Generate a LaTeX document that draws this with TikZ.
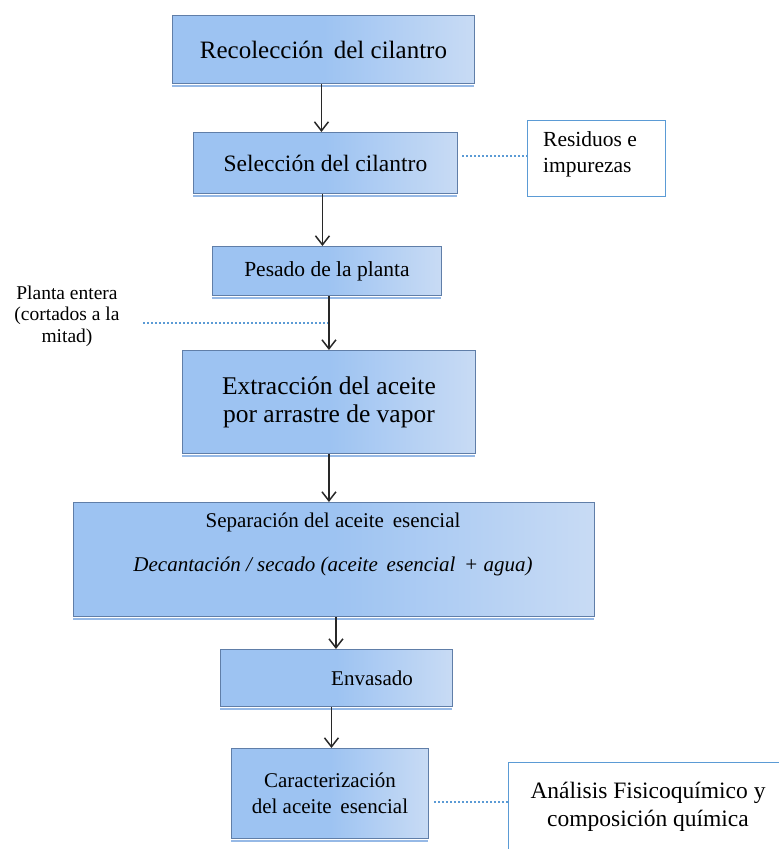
\documentclass[tikz,border=0pt]{standalone}
\usepackage{fontspec}
\setmainfont{Liberation Serif}
\usetikzlibrary{arrows.meta,shadows}
\definecolor{boxblue}{RGB}{157,195,242}
\definecolor{boxlight}{RGB}{200,219,244}
\definecolor{boxedge}{RGB}{96,126,168}
\definecolor{shadowblue}{RGB}{150,185,230}
\definecolor{dotblue}{RGB}{91,155,213}
\definecolor{arrgray}{RGB}{40,40,40}
\newcommand{\fs}[2]{\fontsize{#1pt}{#2pt}\selectfont}
\tikzset{
  proc/.style={draw=boxedge, line width=0.9pt, anchor=north west, align=center,
    left color=boxblue, right color=boxlight, middle color=boxblue,
    general shadow={fill=shadowblue, shadow yshift=-4pt},
    preaction={draw=white, line width=4pt}, inner sep=0pt},
  note/.style={draw=dotblue, line width=1pt, fill=white, anchor=north west, inner sep=0pt},
  lbl/.style={inner sep=0pt},
  arr/.style={draw=arrgray, line width=1.8pt, -{Straight Barb[length=9pt,width=14pt,line width=1.5pt]}},
  dot/.style={draw=dotblue, line width=1.1pt, dash pattern=on 2pt off 2pt}
}
\begin{document}
\begin{tikzpicture}[x=1pt,y=-1pt]
\useasboundingbox (0,0) rectangle (779,849);
\node[proc, minimum width=302pt, minimum height=68pt, font=\fs{25}{30}] (n1) at (172,15) {Recolección\, del cilantro};
\node[proc, minimum width=264pt, minimum height=61pt, font=\fs{23.5}{28}] (n2) at (193,132) {Selección del cilantro};
\node[note, minimum width=138pt, minimum height=76pt] (res) at (527,120) {};
\node[lbl, anchor=west, align=left, font=\fs{21.5}{26}] (rest) at (543,154) {Residuos e\\impurezas};
\node[proc, minimum width=229pt, minimum height=49pt, font=\fs{21.5}{26}] (n3) at (212,246) {Pesado de la planta};
\node[lbl, align=center, font=\fs{19.5}{21.5}] (pl) at (67,316) {Planta entera\\(cortados a la\\mitad)};
\node[proc, minimum width=293pt, minimum height=103pt, font=\fs{25.5}{28}] (n4) at (182,350) {Extracción del aceite\\por arrastre de vapor};
\node[proc, minimum width=521pt, minimum height=114pt] (n5) at (73,502) {};
\node[lbl, font=\fs{21}{25}] (n5a) at (333,522) {Separación del aceite\, esencial};
\node[lbl, font=\fs{21}{25}\itshape] (n5b) at (333,566) {Decantación / secado (aceite\, esencial\, + agua)};
\node[proc, minimum width=232pt, minimum height=57pt] (n6) at (220,649) {};
\node[lbl, font=\fs{21}{25}] (n6t) at (372,678) {Envasado};
\node[proc, minimum width=197pt, minimum height=90pt, font=\fs{21}{26}] (n7) at (231,748) {Caracterización\\del aceite\, esencial};
\node[note, minimum width=290pt, minimum height=100pt] (ana) at (508,762) {};
\node[lbl, align=center, font=\fs{23.5}{28}] (anat) at (648,807) {Análisis Fisicoquímico y\\composición química};
% arrows
\coordinate (a1) at ([xshift=-2pt]n1.south);
\draw[arr] (a1) -- (a1 |- n2.north);
\coordinate (a2) at ([xshift=-3pt]n2.south);
\draw[arr] (a2) -- (a2 |- n3.north);
\coordinate (m34) at (n3.south -| n4.north);
\draw[arr] (m34) -- (n4.north);
\coordinate (a5) at ([xshift=2pt]n5.south);
\draw[arr] (a5) -- (a5 |- n6.north);
\draw[arr] (n4.south) -- (n4.south |- n5.north);
\coordinate (a6) at ([xshift=-5pt]n6.south);
\draw[arr] (a6) -- (a6 |- n7.north);
% dotted
\coordinate (pj) at (328,323);
\draw[dot] (143,323) -- (pj);
\coordinate (s2) at (462,156);
\draw[dot] (s2) -- (s2 -| res.west);
\coordinate (s7) at (434,802);
\draw[dot] (s7) -- (s7 -| ana.west);
\end{tikzpicture}
\end{document}
